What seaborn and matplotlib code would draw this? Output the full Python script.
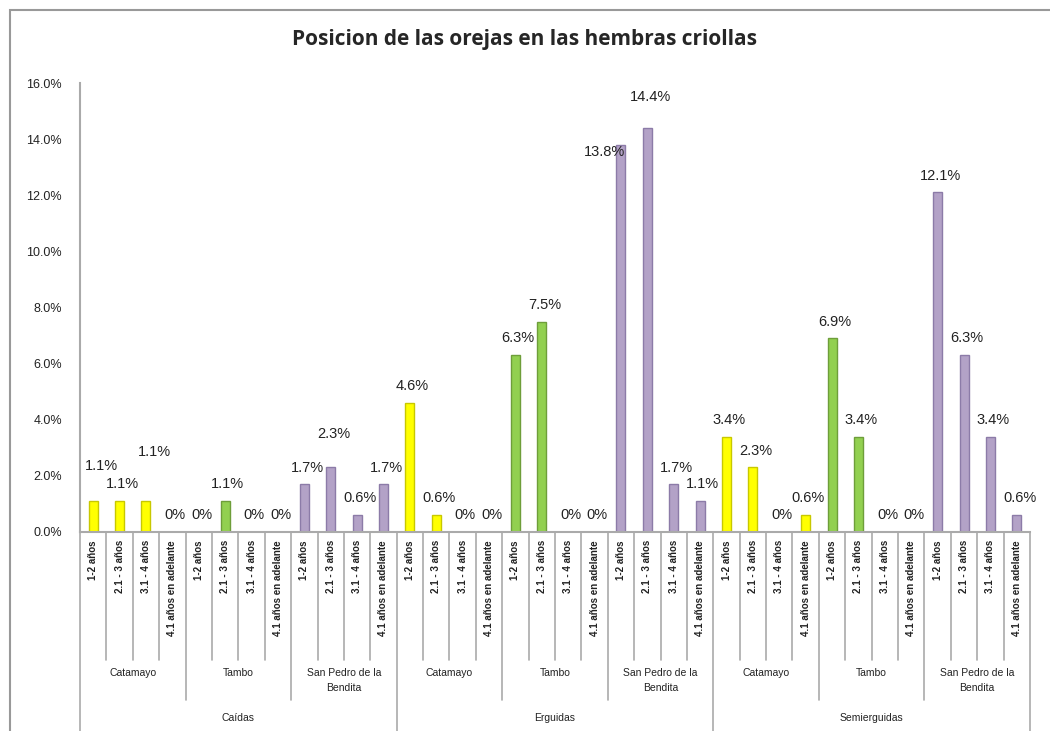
import pandas as pd
import numpy as np
import matplotlib
matplotlib.use('Agg')
import matplotlib.pyplot as plt
from matplotlib.colors import to_hex
from matplotlib.patches import Rectangle
import seaborn as sns

# data (percent)
posiciones = ['Caídas', 'Erguidas', 'Semierguidas']
lugares = ['Catamayo', 'Tambo', 'San Pedro de la\nBendita']
edades = ['1-2 años', '2.1 - 3 años', '3.1 - 4 años', '4.1 años en adelante']

caidas = [1.1, 1.1, 1.1, 0.0, 0.0, 1.1, 0.0, 0.0, 1.7, 2.3, 0.6, 1.7]
erguidas = [4.6, 0.6, 0.0, 0.0, 6.3, 7.5, 0.0, 0.0, 13.8, 14.4, 1.7, 1.1]
semierguidas = [3.4, 2.3, 0.0, 0.6, 6.9, 3.4, 0.0, 0.0, 12.1, 6.3, 3.4, 0.6]

# label offsets in points (dx, dy) for labels moved by hand in the original
desplaz = {(0, 0): (4, 13), (0, 2): (4, 23), (0, 9): (0, 12),
           (1, 8): (-14, -17), (1, 9): (0, 10)}

colores = {'Catamayo': '#FFFF00', 'Tambo': '#92D050', 'San Pedro de la\nBendita': '#B3A2C7'}
bordes = {'#ffff00': '#C8C800', '#92d050': '#6E9E3A', '#b3a2c7': '#8C7BA8'}

filas = []
for p, vals in zip(posiciones, [caidas, erguidas, semierguidas]):
    k = 0
    for l in lugares:
        for e in edades:
            filas.append({'pos': p, 'lugar': l, 'edad': e,
                          'clave': f'{p}|{l}|{e}', 'valor': vals[k]})
            k += 1
df = pd.DataFrame(filas)

sns.set_style('white')
plt.rcParams['font.family'] = ['Liberation Sans', 'DejaVu Sans']

fig = plt.figure(figsize=(10.5, 7.31), dpi=100)
ax = fig.add_axes([80 / 1050, 1 - 532 / 731, 950 / 1050, 449 / 731])

sns.barplot(data=df, x='clave', y='valor', hue='lugar', palette=colores,
            dodge=False, width=0.34, legend=False, ax=ax, saturation=1)

for bar in ax.patches:
    fc = to_hex(bar.get_facecolor())
    bar.set_edgecolor(bordes.get(fc, '#888888'))
    bar.set_linewidth(1.0)

ax.set_ylim(0, 16)
ax.set_xlim(-0.5, len(df) - 0.5)
ax.set_yticks(np.arange(0, 17, 2))
ax.set_yticklabels([f'{v:.1f}%' for v in np.arange(0, 17, 2)], fontsize=9, color='#222222')
ax.tick_params(axis='y', length=5, color='#999999', direction='out', pad=8)
ax.set_xticks([])
ax.set_xlabel('')
ax.set_ylabel('')
for s in ['top', 'right']:
    ax.spines[s].set_visible(False)
ax.spines['left'].set_color('#AAAAAA')
ax.spines['left'].set_linewidth(1.5)
ax.spines['bottom'].set_color('#AAAAAA')
ax.spines['bottom'].set_linewidth(1.5)

# data labels
for i, (_, r) in enumerate(df.iterrows()):
    g, j = i // 12, i % 12
    txt = '0%' if r['valor'] == 0 else f"{r['valor']:.1f}%"
    dx, dy = desplaz.get((g, j), (0, 0))
    ax.annotate(txt, (i, r['valor']), xytext=(2 + dx, 7 + dy),
                textcoords='offset points', ha='center', va='bottom',
                fontsize=10.5, color='#222222')

# multi-level category axis
tr = ax.get_xaxis_transform()
px = 1 / 449.0
lc = '#AAAAAA'
for i, (_, r) in enumerate(df.iterrows()):
    ax.text(i, -8 * px, r['edad'], transform=tr, rotation=90, ha='center', va='top',
            fontsize=7, fontweight='bold', color='#222222')
for b in range(len(df) + 1):
    x = b - 0.5
    if b % 12 == 0:
        y1 = -199 * px
    elif b % 4 == 0:
        y1 = -168 * px
    else:
        y1 = -128 * px
    ax.plot([x, x], [0, y1], transform=tr, color=lc, lw=1.2, clip_on=False)
for g in range(3):
    for k, l in enumerate(lugares):
        c = g * 12 + k * 4 + 1.5
        ax.text(c, -136 * px, l, transform=tr, ha='center', va='top',
                fontsize=7.5, color='#222222', linespacing=1.6)
    ax.text(g * 12 + 5.5, -186 * px, posiciones[g], transform=tr, ha='center',
            va='center', fontsize=7.5, color='#222222')

fig.text(0.5, 1 - 40 / 731, 'Posicion de las orejas en las hembras criollas',
         ha='center', va='center', fontsize=15, fontweight='bold',
         family=['Open Sans', 'DejaVu Sans'])

# outer chart border
fig.patches.append(Rectangle((10 / 1050, -0.05), 1.1, 1 - 10 / 731 + 0.05,
                             transform=fig.transFigure, fill=False,
                             edgecolor='#999999', lw=1.5))

fig.savefig('out.png', dpi=100)
